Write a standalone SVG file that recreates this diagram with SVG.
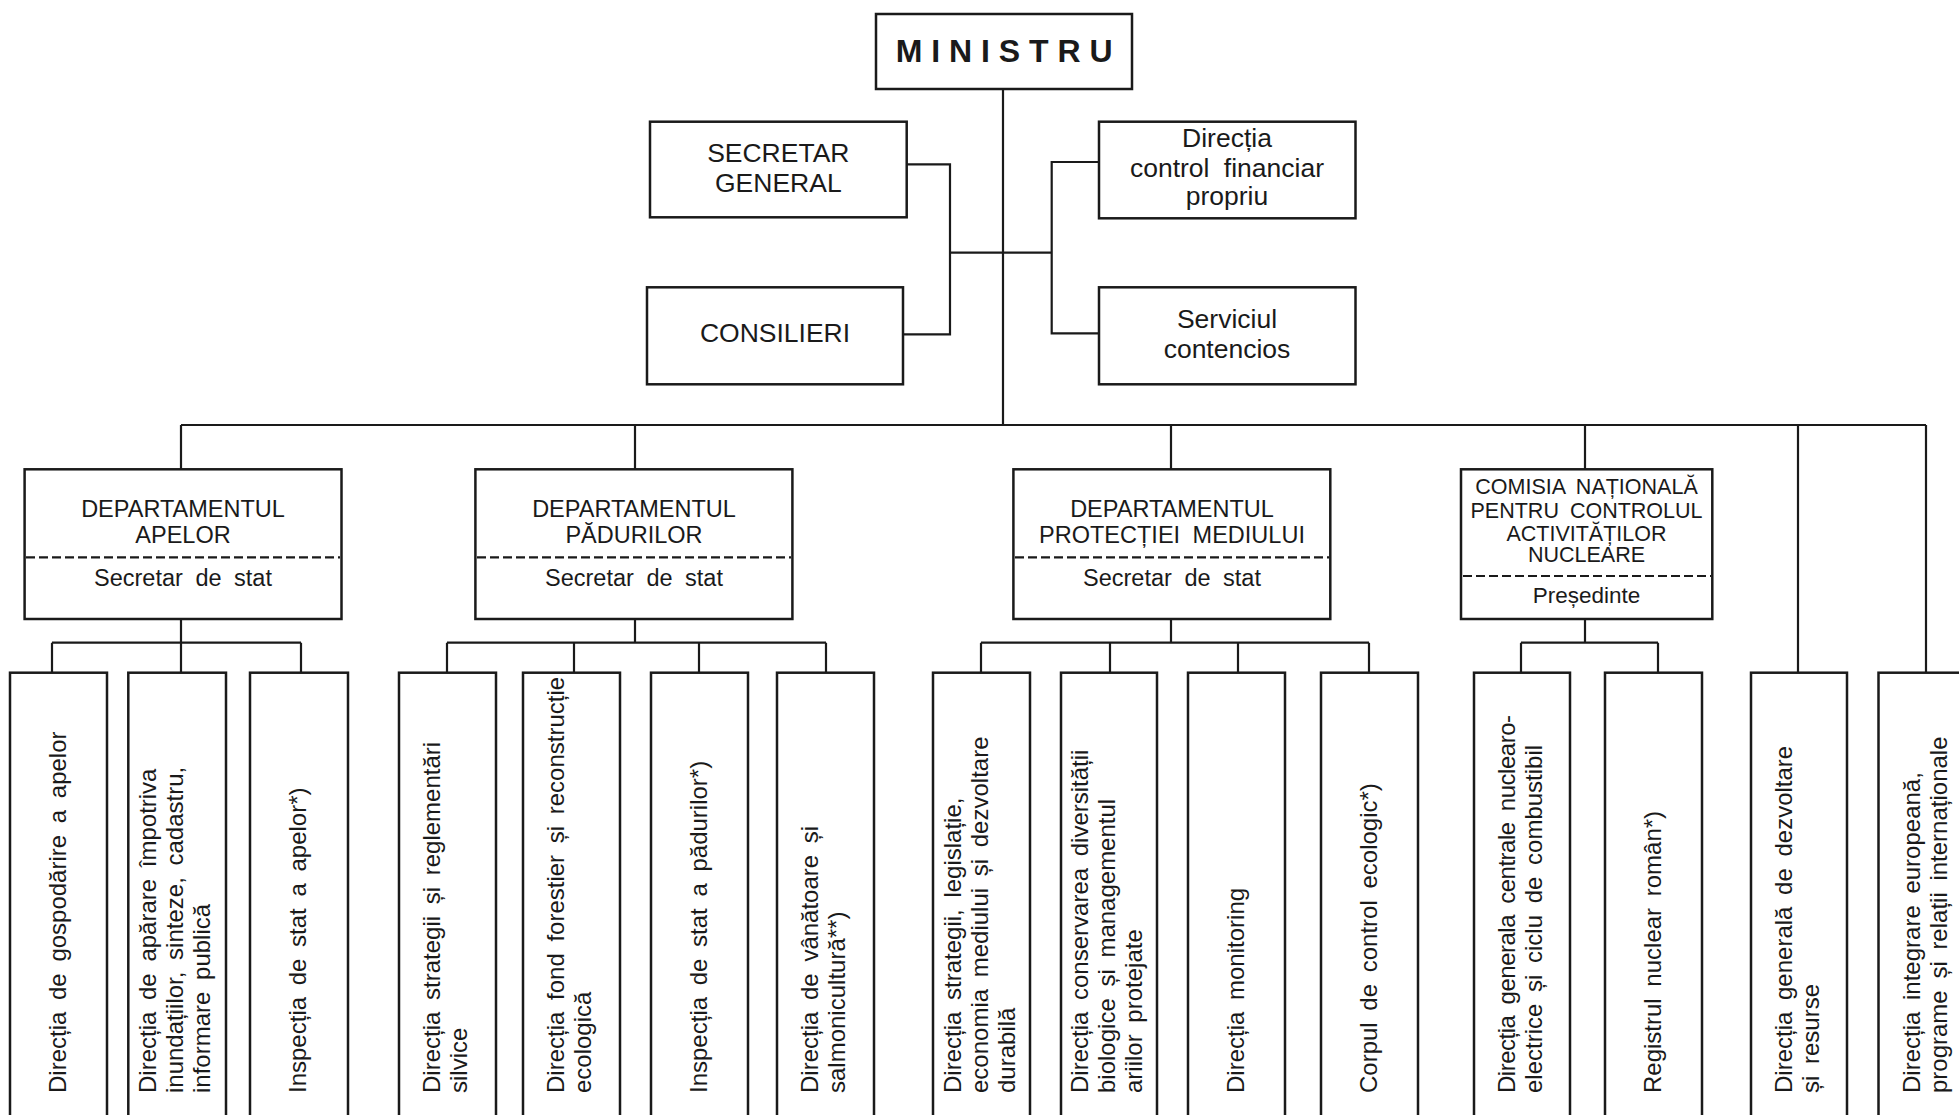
<svg xmlns="http://www.w3.org/2000/svg" width="1959" height="1115" viewBox="0 0 1959 1115">
<style>
.box{fill:#fff;stroke:#1a1a1a;stroke-width:2.5}
.ln{fill:none;stroke:#1a1a1a;stroke-width:2.2}
.dash{fill:none;stroke:#1a1a1a;stroke-width:2.2;stroke-dasharray:9 4}
text{font-family:"Liberation Sans",Arial,Helvetica,sans-serif;fill:#1a1a1a}
.t26{font-size:26.5px;text-anchor:middle;word-spacing:7px}
.t23{font-size:23.5px;text-anchor:middle;word-spacing:6px}
.t21{font-size:21.5px;text-anchor:middle;word-spacing:5px}
.v{font-size:24px;word-spacing:5px}
</style>
<rect width="1959" height="1115" fill="#fff"/>

<g id="connectors">
<path class="ln" d="M1003 89V425"/>
<path class="ln" d="M906.7 164.3H950V334.3H903"/>
<path class="ln" d="M950 252.7H1051.7"/>
<path class="ln" d="M1099 162H1051.7V333.3H1099"/>
<path class="ln" d="M181 425H1926"/>
<path class="ln" d="M181 425V469M635 425V469M1171 425V469M1585 425V469"/>
<path class="ln" d="M1798 425V673M1926 425V673"/>
<path class="ln" d="M181 619V642.7M52 642.7H301M52 642.7V673M181 642.7V673M301 642.7V673"/>
<path class="ln" d="M635 619V642.7M447 642.7H826M447 642.7V673M574 642.7V673M699 642.7V673M826 642.7V673"/>
<path class="ln" d="M1171 619V642.7M981 642.7H1369M981 642.7V673M1110 642.7V673M1238 642.7V673M1369 642.7V673"/>
<path class="ln" d="M1585 619V642.7M1521 642.7H1658M1521 642.7V673M1658 642.7V673"/>
</g>

<g id="ministru">
<rect class="box" x="876" y="14" width="256" height="75"/>
<text x="895.7" y="61.7" style="font-size:32px;font-weight:bold;letter-spacing:8.9px">MINISTRU</text>
</g>

<g id="secretar-general">
<rect class="box" x="650" y="121.7" width="256.7" height="95.6"/>
<text class="t26" x="778.3" y="162.3">SECRETAR</text>
<text class="t26" x="778.3" y="192">GENERAL</text>
</g>

<g id="consilieri">
<rect class="box" x="647" y="287.3" width="256" height="97"/>
<text class="t26" x="775" y="342.3">CONSILIERI</text>
</g>

<g id="directia-control">
<rect class="box" x="1099" y="121.7" width="256.5" height="96.6"/>
<text class="t26" x="1227" y="146.7">Direcția</text>
<text class="t26" x="1227" y="176.7">control financiar</text>
<text class="t26" x="1227" y="205">propriu</text>
</g>

<g id="serviciul-contencios">
<rect class="box" x="1099" y="287.3" width="256.5" height="97"/>
<text class="t26" x="1227" y="328.3">Serviciul</text>
<text class="t26" x="1227" y="357.7">contencios</text>
</g>

<g id="dept-apelor">
<rect class="box" x="24.6" y="469.3" width="316.9" height="149.7"/>
<text class="t23" x="183" y="516.7">DEPARTAMENTUL</text>
<text class="t23" x="183" y="543.3">APELOR</text>
<path class="dash" d="M26 557.3H340"/>
<text class="t23" x="183" y="585.7">Secretar de stat</text>
</g>

<g id="dept-padurilor">
<rect class="box" x="475.4" y="469.3" width="317" height="149.7"/>
<text class="t23" x="634" y="516.7">DEPARTAMENTUL</text>
<text class="t23" x="634" y="543.3">PĂDURILOR</text>
<path class="dash" d="M477 557.3H791"/>
<text class="t23" x="634" y="585.7">Secretar de stat</text>
</g>

<g id="dept-protectiei">
<rect class="box" x="1013.4" y="469.3" width="316.9" height="149.7"/>
<text class="t23" x="1172" y="516.7">DEPARTAMENTUL</text>
<text class="t23" x="1172" y="543.3">PROTECȚIEI MEDIULUI</text>
<path class="dash" d="M1015 557.3H1329"/>
<text class="t23" x="1172" y="585.7">Secretar de stat</text>
</g>

<g id="comisia">
<rect class="box" x="1461" y="469.3" width="251.3" height="149.7"/>
<text class="t21" x="1586.5" y="494.3">COMISIA NAȚIONALĂ</text>
<text class="t21" x="1586.5" y="518.3">PENTRU CONTROLUL</text>
<text class="t21" x="1586.5" y="541">ACTIVITĂȚILOR</text>
<text class="t21" x="1586.5" y="562.3">NUCLEARE</text>
<path class="dash" d="M1463 576H1711"/>
<text class="t21" x="1586.5" y="602.7" style="font-size:22.5px">Președinte</text>
</g>

<g id="b1"><rect class="box" x="10" y="672.7" width="97" height="460"/>
<g transform="translate(0,1093) rotate(-90)"><text class="v" x="0" y="65.5">Direcția de gospodărire a apelor</text></g></g>

<g id="b2"><rect class="box" x="128.3" y="672.7" width="97.7" height="460"/>
<g transform="translate(0,1093) rotate(-90)">
<text class="v" x="0" y="156" word-spacing="5.9">Direcția de apărare împotriva</text>
<text class="v" x="0" y="183" word-spacing="4.8">inundațiilor, sinteze, cadastru,</text>
<text class="v" x="0" y="210" word-spacing="4">informare publică</text></g></g>

<g id="b3"><rect class="box" x="250" y="672.7" width="98" height="460"/>
<g transform="translate(0,1093) rotate(-90)"><text class="v" x="0" y="306">Inspecția de stat a apelor*)</text></g></g>

<g id="b4"><rect class="box" x="399" y="672.7" width="97" height="460"/>
<g transform="translate(0,1093) rotate(-90)">
<text class="v" x="0" y="440">Direcția strategii și reglementări</text>
<text class="v" x="0" y="467">silvice</text></g></g>

<g id="b5"><rect class="box" x="523" y="672.7" width="97" height="460"/>
<g transform="translate(0,1093) rotate(-90)">
<text class="v" x="0" y="564" word-spacing="6">Direcția fond forestier și reconstrucție</text>
<text class="v" x="0" y="591">ecologică</text></g></g>

<g id="b6"><rect class="box" x="651" y="672.7" width="97" height="460"/>
<g transform="translate(0,1093) rotate(-90)"><text class="v" x="0" y="706.5">Inspecția de stat a pădurilor*)</text></g></g>

<g id="b7"><rect class="box" x="777" y="672.7" width="97" height="460"/>
<g transform="translate(0,1093) rotate(-90)">
<text class="v" x="0" y="818">Direcția de vânătoare și</text>
<text class="v" x="0" y="845">salmonicultură**)</text></g></g>

<g id="b8"><rect class="box" x="933" y="672.7" width="97" height="460"/>
<g transform="translate(0,1093) rotate(-90)">
<text class="v" x="0" y="960.5" word-spacing="1">Direcția strategii, legislație,</text>
<text class="v" x="0" y="987.5">economia mediului și dezvoltare</text>
<text class="v" x="0" y="1014.5">durabilă</text></g></g>

<g id="b9"><rect class="box" x="1061" y="672.7" width="96" height="460"/>
<g transform="translate(0,1093) rotate(-90)">
<text class="v" x="0" y="1088">Direcția conservarea diversității</text>
<text class="v" x="0" y="1115" word-spacing="5.5">biologice și managementul</text>
<text class="v" x="0" y="1142" word-spacing="8">ariilor protejate</text></g></g>

<g id="b10"><rect class="box" x="1188" y="672.7" width="97" height="460"/>
<g transform="translate(0,1093) rotate(-90)"><text class="v" x="0" y="1243.5" word-spacing="3">Direcția monitoring</text></g></g>

<g id="b11"><rect class="box" x="1321" y="672.7" width="97" height="460"/>
<g transform="translate(0,1093) rotate(-90)"><text class="v" x="0" y="1376.5" word-spacing="4">Corpul de control ecologic*)</text></g></g>

<g id="b12"><rect class="box" x="1474" y="672.7" width="96" height="460"/>
<g transform="translate(0,1093) rotate(-90)">
<text class="v" x="0" y="1514.5" word-spacing="0" textLength="378" lengthAdjust="spacing">Direcția generala centrale nuclearo-</text>
<text class="v" x="0" y="1541.5">electrice și ciclu de combustibil</text></g></g>

<g id="b13"><rect class="box" x="1605" y="672.7" width="97" height="460"/>
<g transform="translate(0,1093) rotate(-90)"><text class="v" x="0" y="1660.5" word-spacing="6.5">Registrul nuclear român*)</text></g></g>

<g id="b14"><rect class="box" x="1751" y="672.7" width="96" height="460"/>
<g transform="translate(0,1093) rotate(-90)">
<text class="v" x="0" y="1791.5">Direcția generală de dezvoltare</text>
<text class="v" x="0" y="1818.5" word-spacing="2">și resurse</text></g></g>

<g id="b15"><rect class="box" x="1878.5" y="672.7" width="97" height="460"/>
<g transform="translate(0,1093) rotate(-90)">
<text class="v" x="0" y="1919.5" word-spacing="1">Direcția integrare europeană,</text>
<text class="v" x="0" y="1946.5" word-spacing="5.5">programe și relații internaționale</text></g></g>
</svg>
